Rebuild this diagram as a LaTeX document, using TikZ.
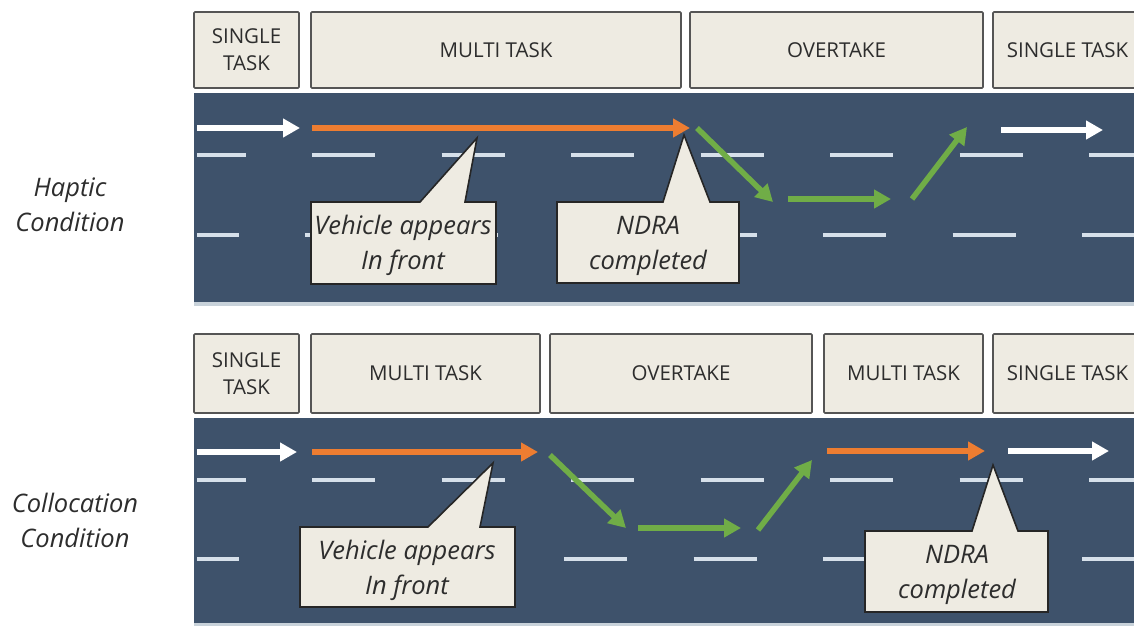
\documentclass[tikz,border=0pt]{standalone}
\usepackage{fontspec}
\setmainfont{Open Sans}
\usetikzlibrary{arrows.meta}
\definecolor{road}{RGB}{62,82,107}
\definecolor{boxfill}{RGB}{238,235,226}
\definecolor{boxdraw}{RGB}{85,85,85}
\definecolor{txt}{RGB}{45,45,45}
\definecolor{dashc}{RGB}{214,224,234}
\definecolor{orng}{RGB}{237,125,49}
\definecolor{grn}{RGB}{112,173,71}
\definecolor{strip}{RGB}{200,210,218}
\begin{document}
\begin{tikzpicture}[x=1pt,y=-1pt,
  hdr/.style={draw=boxdraw, fill=boxfill, line width=1.6pt, rounded corners=1pt,
    inner sep=0pt, text=txt, font=\fontsize{20.5}{27}\selectfont, align=center},
  calltxt/.style={text=txt, font=\fontsize{25.5}{35}\selectfont\itshape, align=center},
  callout/.style={draw=black!85, fill=boxfill, line width=1.6pt},
  lane/.style={dashc, line width=3.5pt},
  arr/.style={line width=5.5pt, -{Triangle[length=17pt,width=18pt]}},
]
\useasboundingbox (0,0) rectangle (1134,627);
\clip (0,0) rectangle (1134,627);

% ---------- TOP PANEL ----------
\fill[road] (194,93) rectangle (1140,302);
\fill[strip] (194,302) rectangle (1140,306);
\begin{scope}
  \clip (197,93) rectangle (1140,302);
  \foreach \s in {0,...,7} {
    \draw[lane] (182.5+129.5*\s,155) -- ++(63,0);
    \draw[lane] (175.5+129.5*\s,235) -- ++(63,0);
  }
\end{scope}

\node[hdr, minimum width=105pt, minimum height=76pt] (t1) at (246.5,50) {SINGLE\\TASK};
\node[hdr, minimum width=370pt, minimum height=76pt] (t2) at (496,50) {MULTI TASK};
\node[hdr, minimum width=293pt, minimum height=76pt] (t3) at (836.5,50) {OVERTAKE};
\node[hdr, minimum width=149pt, minimum height=76pt] (t4) at (1067.5,50) {SINGLE TASK};

\coordinate (tw1a) at (197,128);  \coordinate (tw1b) at (300,128);
\coordinate (to1a) at (312,128);  \coordinate (to1b) at (690,128);
\coordinate (tg1a) at (697,128);  \coordinate (tg1b) at (773,202);
\coordinate (tg2a) at (788,199);  \coordinate (tg2b) at (891,199);
\coordinate (tg3a) at (912,199);  \coordinate (tg3b) at (967,127);
\coordinate (tw2a) at (1001,130); \coordinate (tw2b) at (1103,130);

\draw[arr, white] (tw1a) -- (tw1b);
\draw[arr, orng] (to1a) -- (to1b);
\draw[arr, grn] (tg1a) -- (tg1b);
\draw[arr, grn] (tg2a) -- (tg2b);
\draw[arr, grn] (tg3a) -- (tg3b);
\draw[arr, white] (tw2a) -- (tw2b);

\draw[callout] (311,202) -- (420,202) -- (477,138) -- (465,202) -- (496,202)
  -- (496,284) -- (311,284) -- cycle;
\node[calltxt] (tv) at (403,245.5) {Vehicle appears\\In front};
\draw[callout] (557,202) -- (663,202) -- (684,135) -- (710,202) -- (739,202)
  -- (739,283) -- (557,283) -- cycle;
\node[calltxt] (tn) at (648,245.5) {NDRA\\completed};

\node[calltxt] (lh) at (70,204.5) {Haptic\\Condition};

% ---------- BOTTOM PANEL ----------
\fill[road] (194,418) rectangle (1140,623);
\fill[strip] (194,623) rectangle (1140,626);
\begin{scope}
  \clip (197,418) rectangle (1140,623);
  \foreach \s in {0,...,7} {
    \draw[lane] (182.5+129.5*\s,480) -- ++(63,0);
    \draw[lane] (175.5+129.5*\s,559) -- ++(63,0);
  }
\end{scope}

\node[hdr, minimum width=105pt, minimum height=79pt] (b1) at (246.5,373.5) {SINGLE\\TASK};
\node[hdr, minimum width=229pt, minimum height=79pt] (b2) at (425.5,373.5) {MULTI TASK};
\node[hdr, minimum width=262pt, minimum height=79pt] (b3) at (681,373.5) {OVERTAKE};
\node[hdr, minimum width=159pt, minimum height=79pt] (b4) at (903.5,373.5) {MULTI TASK};
\node[hdr, minimum width=149pt, minimum height=79pt] (b5) at (1067.5,373.5) {SINGLE TASK};

\coordinate (bw1a) at (197,452);  \coordinate (bw1b) at (297,452);
\coordinate (bo1a) at (312,452);  \coordinate (bo1b) at (538,452);
\coordinate (bg1a) at (550,455);  \coordinate (bg1b) at (626,528);
\coordinate (bg2a) at (638,528);  \coordinate (bg2b) at (741,528);
\coordinate (bg3a) at (758,530);  \coordinate (bg3b) at (812,460);
\coordinate (bo2a) at (827,451);  \coordinate (bo2b) at (985,451);
\coordinate (bw2a) at (1008,451); \coordinate (bw2b) at (1109,451);

\draw[arr, white] (bw1a) -- (bw1b);
\draw[arr, orng] (bo1a) -- (bo1b);
\draw[arr, grn] (bg1a) -- (bg1b);
\draw[arr, grn] (bg2a) -- (bg2b);
\draw[arr, grn] (bg3a) -- (bg3b);
\draw[arr, orng] (bo2a) -- (bo2b);
\draw[arr, white] (bw2a) -- (bw2b);

\draw[callout] (300,527) -- (428,527) -- (493,463) -- (480,527) -- (515,527)
  -- (515,607) -- (300,607) -- cycle;
\node[calltxt] (bv) at (407,570) {Vehicle appears\\In front};
\draw[callout] (865,531) -- (972,531) -- (993,465) -- (1018,531) -- (1048,531)
  -- (1048,612) -- (865,612) -- cycle;
\node[calltxt] (bn) at (957,574.5) {NDRA\\completed};

\node[calltxt] (lc) at (75,520) {Collocation\\Condition};
\end{tikzpicture}
\end{document}
